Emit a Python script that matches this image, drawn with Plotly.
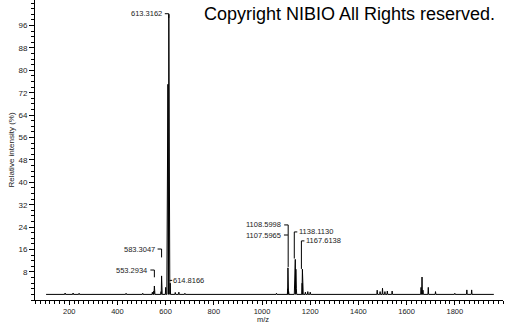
import plotly.graph_objects as go

# ---- data ----
baseline_mz = [104, 1962]
peak_mz = [183, 216, 241, 436, 505, 545, 551.3, 553.3, 554.3, 581.3, 583.3, 584.3,
           600.3, 606.5, 609.5, 613.3, 616.0, 619.0, 640, 655, 680, 1060,
           1106.6, 1107.6, 1108.6, 1110.5, 1135.5, 1138.1, 1140.5, 1142.5,
           1166.6, 1167.6, 1169.5, 1180, 1190, 1200,
           1478, 1490, 1500, 1510, 1520, 1540,
           1660, 1664, 1668, 1690, 1720, 1800, 1850, 1870]
peak_int = [0.5, 0.5, 0.4, 0.4, 0.4, 0.8, 1.2, 3.0, 1.0, 1.0, 6.6, 2.5,
            2.5, 25, 75, 100, 75, 4, 0.7, 0.8, 0.4, 0.4,
            2, 9.5, 6.5, 1, 5, 12.5, 9, 2,
            4, 9, 5, 0.8, 1, 0.8,
            1.5, 1, 2.2, 1, 1.2, 1.2,
            2.5, 6.2, 1.5, 2.5, 1, 0.4, 1.6, 1.6]

label_mz = [613.3162, 583.3047, 553.2934, 614.8166, 1108.5998, 1107.5965, 1138.1130, 1167.6138]
label_text = ["613.3162", "583.3047", "553.2934", "614.8166", "1108.5998", "1107.5965", "1138.1130", "1167.6138"]
label_level = [100.2, 16.2, 8.7, 5.0, 24.8, 21.2, 22.3, 19.1]
label_drop = [1.5, 3.0, 2.6, 0.0, 15.0, 0.0, 9.5, 10.0]
label_side = ["left", "left", "left", "right", "left", "left", "right", "right"]

x_tick_vals = [200, 400, 600, 800, 1000, 1200, 1400, 1600, 1800]
y_tick_vals = [8, 16, 24, 32, 40, 48, 56, 64, 72, 80, 88, 96]

# ---- build stick/profile line ----
hw = 1.5
pts = sorted(zip(peak_mz, peak_int))
xs = [baseline_mz[0]]
ys = [0]
for m, h in pts:
    xs += [m - hw, m, m + hw]
    ys += [0, h, 0]
xs.append(baseline_mz[1])
ys.append(0)

fig = go.Figure()
fig.add_trace(go.Scatter(x=xs, y=ys, mode="lines",
                         line=dict(color="black", width=1), hoverinfo="skip",
                         showlegend=False))

FONT = "Liberation Sans, Arial, sans-serif"
shapes = []
annotations = []
for m, t, lv, dr, side in zip(label_mz, label_text, label_level, label_drop, label_side):
    if side == "left":
        shapes.append(dict(type="line", xref="x", yref="y", xsizemode="pixel", xanchor=m,
                           x0=-4, x1=0, y0=lv, y1=lv, line=dict(color="black", width=1)))
        if dr > 0:
            shapes.append(dict(type="line", xref="x", yref="y", x0=m, x1=m,
                               y0=lv, y1=lv - dr, line=dict(color="black", width=1)))
        annotations.append(dict(x=m, y=lv, xref="x", yref="y", text=t, showarrow=False,
                                xanchor="right", yanchor="middle", xshift=-5,
                                font=dict(family=FONT, size=7.5, color="#222")))
    else:
        if dr > 0:
            shapes.append(dict(type="line", xref="x", yref="y", xsizemode="pixel", xanchor=m,
                               x0=-1, x1=2, y0=lv, y1=lv, line=dict(color="black", width=1)))
            shapes.append(dict(type="line", xref="x", yref="y", xsizemode="pixel", xanchor=m,
                               x0=-1, x1=-1, y0=lv, y1=lv - dr, line=dict(color="black", width=1)))
        else:
            shapes.append(dict(type="line", xref="x", yref="y", xsizemode="pixel", xanchor=m,
                               x0=0.5, x1=3, y0=lv, y1=lv, line=dict(color="black", width=1)))
        annotations.append(dict(x=m, y=lv, xref="x", yref="y", text=t, showarrow=False,
                                xanchor="left", yanchor="middle", xshift=2,
                                font=dict(family=FONT, size=7.5, color="#222")))

annotations.append(dict(x=0.987, y=0.953, xref="paper", yref="paper",
                        text="Copyright NIBIO All Rights reserved.", showarrow=False,
                        xanchor="right", yanchor="middle",
                        font=dict(family=FONT, size=18, color="black")))
annotations.append(dict(x=(263 - 35) / 468, y=-0.0833, xref="paper", yref="paper",
                        text="m/z", showarrow=False, xanchor="center", yanchor="bottom",
                        borderpad=0,
                        font=dict(family=FONT, size=7.5, color="#222")))

fig.update_layout(
    width=505, height=325,
    margin=dict(l=35, r=2, t=0, b=25),
    paper_bgcolor="white", plot_bgcolor="white",
    font=dict(family=FONT, size=8, color="#222"),
    shapes=shapes, annotations=annotations,
    xaxis=dict(range=[58, 2000], showgrid=False, zeroline=False, showline=True,
               linecolor="black", linewidth=1, ticks="outside", ticklen=4, tickcolor="black",
               tickmode="array", tickvals=x_tick_vals, ticktext=[str(v) for v in x_tick_vals],
               tickfont=dict(size=7.5, color="#222"),
               minor=dict(dtick=20, tick0=0, ticks="outside", ticklen=2.5, tickcolor="black")),
    yaxis=dict(range=[-2, 105.1], showgrid=False, zeroline=False, showline=True,
               linecolor="black", linewidth=1, ticks="outside", ticklen=5, tickcolor="black",
               tickmode="array", tickvals=y_tick_vals, ticktext=[str(v) for v in y_tick_vals],
               tickfont=dict(size=8, color="#222"),
               minor=dict(dtick=2, tick0=0, ticks="outside", ticklen=3, tickcolor="black"),
               title=dict(text="Relative intensity (%)", font=dict(size=8, color="#222"), standoff=2)),
)

fig.write_html("out.html")
